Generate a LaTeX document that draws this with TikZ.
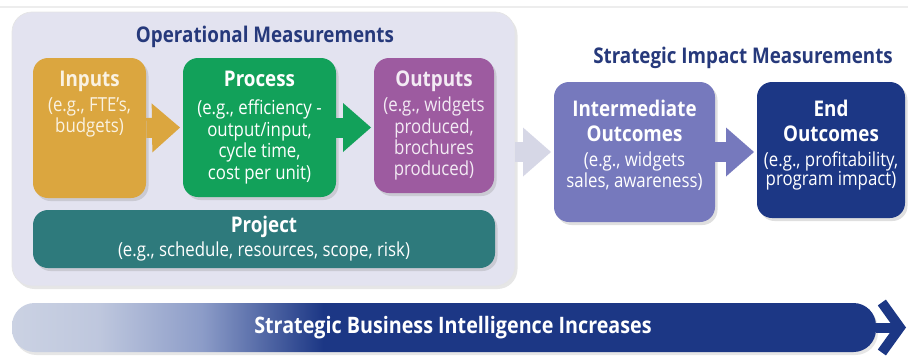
\documentclass[tikz,border=0pt]{standalone}
\usepackage{fontspec}
\setmainfont[FakeStretch=0.87]{Open Sans}
\usetikzlibrary{calc,positioning,shadows,arrows.meta}

\definecolor{panelbg}{HTML}{E3E3F0}
\definecolor{headnavy}{HTML}{26397B}
\definecolor{inputcol}{HTML}{DBA63F}
\definecolor{processcol}{HTML}{12A15A}
\definecolor{outputcol}{HTML}{9D5BA0}
\definecolor{projectcol}{HTML}{2E7A7C}
\definecolor{intercol}{HTML}{7679BD}
\definecolor{endcol}{HTML}{1C3785}
\definecolor{lightarrow}{HTML}{D6D7E6}
\definecolor{barlight}{HTML}{CBD2E3}
\definecolor{barmid}{HTML}{8C9CC8}

\pgfdeclarehorizontalshading{sbishade}{100bp}{color(0bp)=(barlight); color(25bp)=(barlight); color(30bp)=(barlight!80!barmid); color(36bp)=(barmid); color(43bp)=(endcol); color(100bp)=(endcol)}

\newcommand{\stagehead}[1]{{\bfseries\fontsize{12.3}{14}\selectfont #1}}

\tikzset{
  panel/.style={fill=panelbg, draw=black!10, rounded corners=0.4cm,
    minimum width=10.06cm, minimum height=5.48cm,
    drop shadow={opacity=0.2, shadow xshift=0.5mm, shadow yshift=-0.6mm}},
  heading/.style={inner sep=0pt, text=headnavy, font=\bfseries\fontsize{12.3}{14}\selectfont},
  stage/.style={fill=#1, rounded corners=0.3cm, inner sep=0pt,
    drop shadow={opacity=0.25, shadow xshift=0.5mm, shadow yshift=-0.6mm}},
  stagetxt/.style={anchor=north, align=center, inner sep=0pt, text=white,
    font=\fontsize{11}{12.2}\selectfont},
  flow/.style={draw=#1, line width=0.4cm, shorten >=1.5pt,
    -{Triangle[length=0.56cm, width=0.98cm, line width=0pt]}},
  barhead/.style={draw=endcol, line width=0.2cm,
    -{Straight Barb[length=0.36cm, width=1.0cm, line width=0.2cm]}}
}

\begin{document}
\begin{tikzpicture}
  \useasboundingbox (0,0) rectangle (18.16,7.12);
  \draw[line width=1.5pt, black!7] (0,6.98) -- (18.16,6.98);

  % operational measurements
  \node[panel] (ops) at (5.27,4.14) {};
  \node[heading] (ops-title) at (5.3,6.38) {Operational Measurements};

  \node[stage=inputcol, minimum width=2.26cm, minimum height=2.8cm] (inputs) at (1.79,4.56) {};
  \node[stage=processcol, minimum width=3.06cm, minimum height=2.78cm] (process) at (5.19,4.57) {};
  \node[stage=outputcol, minimum width=2.4cm, minimum height=2.7cm] (outputs) at (8.68,4.61) {};

  \node[stagetxt, text=white!85!inputcol] (inputs-txt) at ([yshift=-0.26cm]inputs.north)
    {\stagehead{Inputs}\\[2pt](e.g., FTE's,\\budgets)};
  \node[stagetxt] (process-txt) at ([yshift=-0.26cm]process.north)
    {\stagehead{Process}\\[4pt](e.g., efficiency -\\output/input,\\cycle time,\\cost per unit)};
  \node[stagetxt, text=white!88!outputcol] (outputs-txt) at ([yshift=-0.26cm]outputs.north)
    {\stagehead{Outputs}\\[2pt](e.g., widgets\\produced,\\brochures\\produced)};

  \node[stage=projectcol, minimum width=9.24cm, minimum height=1.16cm,
    align=center, text=white, font=\fontsize{11}{12.2}\selectfont] (project) at (5.28,2.34)
    {\stagehead{Project}\\[1.4pt](e.g., schedule, resources, scope, risk)};

  \draw[flow=inputcol] (inputs.east) -- (process.west);
  \draw[flow=processcol] (process.east) -- (process.east -| outputs.west);

  % strategic impact measurements
  \node[heading] (si-title) at (14.86,5.96) {Strategic Impact Measurements};

  \node[stage=intercol, minimum width=3.22cm, minimum height=2.8cm] (inter) at (12.69,4.08) {};
  \node[stage=endcol, minimum width=2.96cm, minimum height=2.72cm] (endout) at (16.62,4.12) {};

  \node[stagetxt, font=\fontsize{11}{10.8}\selectfont] (inter-txt) at ([yshift=-0.36cm]inter.north)
    {\stagehead{Intermediate}\\[3.4pt]\stagehead{Outcomes}\\[3.4pt](e.g., widgets\\sales, awareness)};
  \node[stagetxt, font=\fontsize{11}{10.8}\selectfont] (endout-txt) at ([yshift=-0.36cm]endout.north)
    {\stagehead{End}\\[3.4pt]\stagehead{Outcomes}\\[3.4pt](e.g., profitability,\\program impact)};

  \draw[flow=lightarrow] (ops.east |- inter.west) -- (inter.west);
  \draw[flow=intercol] (inter.east) -- (inter.east -| endout.west);

  % business intelligence bar
  \node[shading=sbishade, shading angle=0, rounded corners=0.45cm,
    minimum width=17.28cm, minimum height=0.98cm,
    drop shadow={opacity=0.2, shadow xshift=0.4mm, shadow yshift=-0.6mm}] (bar) at (8.88,0.57) {};
  \node[inner sep=0pt, text=white, font=\bfseries\fontsize{12.9}{15}\selectfont] (bar-txt) at (9.06,0.57)
    {Strategic Business Intelligence Increases};
  \coordinate (bartip) at (18.12,0.57);
  \draw[barhead] (bar.east) -- (bartip);
\end{tikzpicture}
\end{document}
